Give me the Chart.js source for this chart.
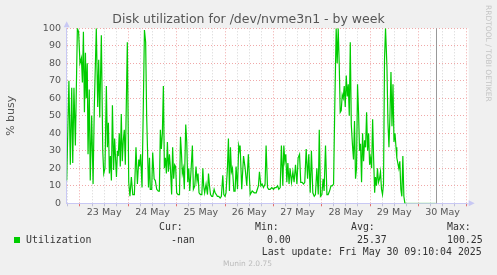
<!DOCTYPE html>
<html>
<head>
<meta charset="utf-8">
<script src="https://cdn.jsdelivr.net/npm/chart.js@4.4.1/dist/chart.umd.min.js"></script>
<style>
  body { margin: 0; background: #f0f0f0; }
  #wrap { position: relative; width: 497px; height: 275px; overflow: hidden; }
  #chart { position: absolute; left: 0; top: 0; }
  .mono { position: absolute; font-family: 'DejaVu Sans Mono', monospace; font-size: 9.9px; line-height: 12px; color: #333; white-space: pre; }
  .swatch { position: absolute; left: 14px; top: 237px; width: 6px; height: 6px; background: #00cc00; }
  .vendor { position: absolute; left: 484px; top: 5px; writing-mode: vertical-rl; font-family: 'DejaVu Sans'; font-size: 7.5px; line-height: 8px; color: #c4c4c4; white-space: nowrap; }
  .munin { position: absolute; left: 223px; top: 259px; font-family: 'DejaVu Sans'; font-size: 7.5px; line-height: 9px; color: #bbb; }
</style>
</head>
<body>
<div id="wrap">
  <canvas id="chart" width="497" height="275"></canvas>
  <div class="vendor">RRDTOOL / TOBI OETIKER</div>
  <div class="mono" style="left:159px;top:221.3px">Cur:</div>
  <div class="mono" style="left:255px;top:221.3px">Min:</div>
  <div class="mono" style="left:351px;top:221.3px">Avg:</div>
  <div class="mono" style="left:447px;top:221.3px">Max:</div>
  <div class="swatch"></div>
  <div class="mono" style="left:26px;top:233.8px">Utilization</div>
  <div class="mono" style="left:171px;top:233.8px">-nan</div>
  <div class="mono" style="left:267px;top:233.8px">0.00</div>
  <div class="mono" style="left:357px;top:233.8px">25.37</div>
  <div class="mono" style="left:447px;top:233.8px">100.25</div>
  <div class="mono" style="left:261.7px;top:245.8px">Last update: Fri May 30 09:10:04 2025</div>
  <div class="munin">Munin 2.0.75</div>
</div>
<script>
// hours since 23 May 00:00
const sampleHours = [
  -6.6,-5.5,-4.8,-4.1,-3.6,-3.0,-2.3,-1.3,-0.7,0.0,
  0.7,1.2,1.7,2.2,2.7,3.1,3.6,4.0,4.6,5.1,
  5.8,6.5,7.1,8.1,8.8,9.3,9.8,10.6,11.3,11.8,
  12.4,13.1,13.6,14.1,14.6,15.1,15.6,16.1,16.7,17.2,
  18.1,18.6,19.0,19.5,20.0,20.5,21.0,21.5,22.0,22.5,
  23.5,24.2,24.8,25.5,26.2,27.0,27.8,28.5,29.2,29.6,
  30.1,30.8,31.5,32.0,32.6,33.1,34.0,34.5,34.9,35.6,
  36.1,36.8,37.4,38.1,38.9,39.4,39.9,40.4,40.9,41.4,
  41.9,42.4,42.9,43.4,43.9,44.4,44.9,45.5,46.0,46.5,
  47.0,47.5,48.0,48.7,49.4,49.9,50.4,50.8,51.3,51.8,
  52.5,53.0,53.5,54.0,54.5,55.2,55.8,56.3,57.0,57.6,
  58.1,58.6,59.1,59.8,60.5,61.0,61.4,61.9,62.6,63.3,
  63.8,64.3,64.8,65.4,65.9,66.6,67.1,67.7,68.2,68.9,
  69.6,70.2,70.9,71.4,72.0,72.5,73.2,73.7,74.2,74.7,
  75.2,75.7,76.4,77.0,77.5,78.2,78.8,79.3,
  79.5,80.3,81.2,82.0,82.8,83.6,84.5,85.5,86.5,87.5,
  88.6,89.1,89.8,90.4,91.1,91.9,92.4,93.1,93.7,94.4,
  95.2,96.1,96.7,97.4,98.1,98.7,99.4,100.0,100.7,101.2,
  101.7,102.2,102.7,103.2,103.8,104.3,105.0,105.7,106.3,107.0,
  107.7,108.3,109.0,109.6,110.3,111.0,111.6,112.3,113.0,113.6,
  114.3,114.9,115.6,116.3,116.9,117.6,118.3,118.8,119.4,120.1,
  120.7,121.2,121.9,122.6,123.2,123.9,124.6,125.2,125.9,126.5,
  127.2,127.7,128.2,128.7,129.2,129.7,130.2,130.7,131.2,131.7,
  132.2,132.7,133.2,133.7,134.2,134.7,135.3,135.8,136.3,136.8,
  137.3,137.8,138.3,138.8,139.3,139.8,140.3,140.8,141.3,141.8,
  142.3,142.8,143.3,143.8,144.3,144.8,145.3,145.8,146.3,146.7,
  147.2,147.7,148.2,148.7,149.2,149.7,150.2,150.7,151.2,151.7,
  152.4,152.9,153.4,153.9,154.4,154.9,155.4,155.9,156.4,156.9,
  157.3,157.8,158.3,158.8,159.3,159.8,160.3,160.8,161.3,161.8,
  176.6
];

// % busy
const busyValues = [
  13,70,22,66,23,66,33,100,98,80,
  83,69,98,52,86,60,80,28,65,13,
  50,11,55,100,55,82,49,96,30,17,
  20,67,32,46,17,27,13,56,19,37,
  15,30,27,40,21,51,24,36,42,22,
  92,12,4,15,5,5,32,11,25,21,
  28,9,60,99,92,50,9,26,8,8,
  29,14,13,8,7,7,42,31,40,67,
  20,26,17,35,18,28,20,5,32,14,
  22,21,6,5,5,38,28,17,20,8,
  45,35,12,20,7,20,33,8,10,21,
  13,17,6,5,5,20,10,6,11,5,
  17,10,5,4,4,8,6,5,4,4,
  3,4,16,5,4,6,20,37,7,32,
  18,20,7,7,21,8,33,30,
  33,8,27,20,10,28,5,7,6,6,
  10,18,10,11,9,11,33,9,8,8,
  9,8,9,9,10,8,9,33,10,33,
  24,28,12,23,11,20,12,18,12,22,
  11,26,28,12,12,11,12,31,14,28,
  6,30,6,4,5,20,5,42,4,5,
  14,7,33,5,5,7,10,10,11,55,
  100,80,100,80,52,53,62,60,67,55,
  73,61,68,50,92,45,33,25,47,14,
  20,68,52,30,34,12,40,24,36,32,
  52,30,40,22,26,20,48,25,6,15,
  10,20,12,14,18,8,5,11,82,100,
  78,46,32,50,75,44,68,35,40,32,
  26,23,20,24,8,4,27,4,0,0,
  0
];

const dayLabels = ['23 May', '24 May', '25 May', '26 May', '27 May', '28 May', '29 May', '30 May'];
const nowHour = 176.6;

const majorGrid = '#f0a8a8';
const minorGrid = '#d4d4d4';
const axisColor = '#c8c8f4';

const points = sampleHours.map((h, i) => ({ x: h, y: busyValues[i] }));
const lastIdx = points.length - 1;

const munin = {
  id: 'munin',
  beforeDraw(chart) {
    const a = chart.chartArea, c = chart.ctx;
    c.save();
    c.fillStyle = '#fff';
    c.fillRect(a.left, a.top, a.right - a.left + 2, a.bottom - a.top);
    c.restore();
  },
  afterDatasetsDraw(chart) {
    const c = chart.ctx, x = chart.scales.x, y = chart.scales.y;
    const px = Math.round(x.getPixelForValue(nowHour)) + 0.5;
    c.save();
    c.strokeStyle = '#999';
    c.lineWidth = 1;
    c.beginPath();
    c.moveTo(px, y.getPixelForValue(0));
    c.lineTo(px, y.getPixelForValue(100));
    c.stroke();
    c.restore();
  },
  afterDraw(chart) {
    const a = chart.chartArea, c = chart.ctx;
    c.save();
    c.fillStyle = axisColor;
    c.strokeStyle = axisColor;
    // up arrow on y axis
    c.beginPath();
    c.moveTo(a.left - 3, a.top - 1);
    c.lineTo(a.left + 3, a.top - 1);
    c.lineTo(a.left, a.top - 7);
    c.closePath();
    c.fill();
    // right arrow on x axis
    c.beginPath();
    c.moveTo(a.right, a.bottom + 0.5);
    c.lineTo(a.right + 2, a.bottom + 0.5);
    c.stroke();
    c.beginPath();
    c.moveTo(a.right + 2, a.bottom - 3);
    c.lineTo(a.right + 2, a.bottom + 3);
    c.lineTo(a.right + 8, a.bottom);
    c.closePath();
    c.fill();
    c.restore();
  }
};

Chart.defaults.font.family = 'DejaVu Sans';
Chart.defaults.color = '#555';

new Chart(document.getElementById('chart'), {
  type: 'line',
  data: {
    datasets: [{
      label: 'Utilization',
      data: points,
      borderColor: '#00cc00',
      borderWidth: 1.2,
      pointRadius: 0,
      tension: 0,
      fill: false,
      segment: {
        borderColor: ctx => ctx.p1DataIndex === lastIdx ? '#8ede8e' : '#00cc00'
      }
    }]
  },
  options: {
    responsive: false,
    animation: false,
    devicePixelRatio: 1,
    layout: { padding: { left: 0, right: 0, top: 0, bottom: 0 } },
    plugins: {
      legend: { display: false },
      tooltip: { enabled: false },
      title: {
        display: true,
        text: 'Disk utilization for /dev/nvme3n1 - by week',
        color: '#555',
        font: { size: 12.5, weight: 'normal' },
        padding: { top: 12.7, bottom: 0.6 }
      }
    },
    scales: {
      x: {
        type: 'linear',
        min: -6.6,
        max: 192,
        afterBuildTicks(scale) {
          const t = [];
          for (let h = -6; h <= 192; h += 6) t.push({ value: h });
          scale.ticks = t;
        },
        afterFit(scale) { scale.height = 71.7; },
        ticks: {
          autoSkip: false,
          maxRotation: 0,
          padding: 1,
          color: '#555',
          font: { size: 9.5 },
          callback: v => (v % 24 === 12 ? dayLabels[(v - 12) / 24] : '')
        },
        grid: {
          color: c => (c.tick && c.tick.value % 24 === 0 ? majorGrid : minorGrid),
          tickColor: c => (c.tick && c.tick.value % 24 === 0 ? '#e07070' : '#c0c0d8'),
          tickLength: 3,
          lineWidth: 1
        },
        border: { color: axisColor, dash: [1, 2] }
      },
      y: {
        min: 0,
        max: 100,
        afterFit(scale) { scale.width = 66.7; },
        ticks: {
          stepSize: 5,
          padding: 5.7,
          color: '#555',
          font: { size: 9.5 },
          callback: v => (v % 10 === 0 ? v : '')
        },
        grid: {
          color: c => (c.tick && c.tick.value % 10 === 0 ? majorGrid : minorGrid),
          drawTicks: false,
          lineWidth: 1
        },
        border: { color: axisColor, dash: [1, 2] },
        title: {
          display: true,
          text: '% busy',
          color: '#555',
          font: { size: 11 },
          padding: { top: 4.6, bottom: 0 }
        }
      },
      y2: {
        position: 'right',
        afterFit(scale) { scale.width = 30.3; },
        grid: { display: false, drawTicks: false },
        ticks: { display: false },
        border: { display: false }
      }
    }
  },
  plugins: [munin]
});
</script>
</body>
</html>
